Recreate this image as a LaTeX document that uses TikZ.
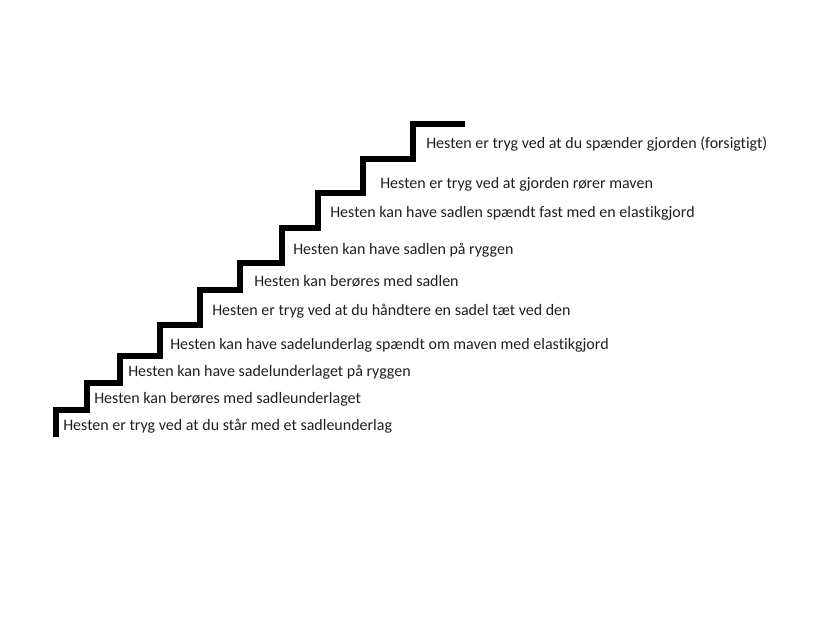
\documentclass[tikz,border=0pt]{standalone}
\usepackage{fontspec}
\setmainfont{Carlito}[Ligatures=NoCommon]
\begin{document}
\begin{tikzpicture}[x=0.75pt,y=-0.75pt]
    \tikzstyle{every node} = [font=\fontsize{12}{14}\selectfont]
    \tikzstyle{steptext} = [anchor=base west, inner sep=0pt, text=black!88]
    \useasboundingbox (0,0) rectangle (819,643);
    % stairs
    \draw[line width=3.8pt]
    (56,437) |- (87,410) |- (120,383) |- (160,356) |- (200,325) |- (240,290)
    |- (282,263) |- (318,228) |- (363,193) |- (413,159) |- (465,124);

    % steps
    \node[steptext](standUnderlag) at (63,430){Hesten er tryg ved at du står med et sadleunderlag};
    \node[steptext](beroerUnderlag) at (94,403){Hesten kan berøres med sadleunderlaget};
    \node[steptext](underlagRyg) at (128,376){Hesten kan have sadelunderlaget på ryggen};
    \node[steptext](underlagGjord) at (170,349){Hesten kan have sadelunderlag spændt om maven med elastikgjord};
    \node[steptext](haandterSadel) at (212,315){Hesten er tryg ved at du håndtere en sadel tæt ved den};
    \node[steptext](beroerSadel) at (254,286){Hesten kan berøres med sadlen};
    \node[steptext](sadelRyg) at (293,254){Hesten kan have sadlen på ryggen};
    \node[steptext](sadelGjord) at (330,217){Hesten kan have sadlen spændt fast med en elastikgjord};
    \node[steptext](gjordMave) at (380,188){Hesten er tryg ved at gjorden rører maven};
    \node[steptext](spaendGjord) at (426,148){Hesten er tryg ved at du spænder gjorden (forsigtigt)};
\end{tikzpicture}
\end{document}
